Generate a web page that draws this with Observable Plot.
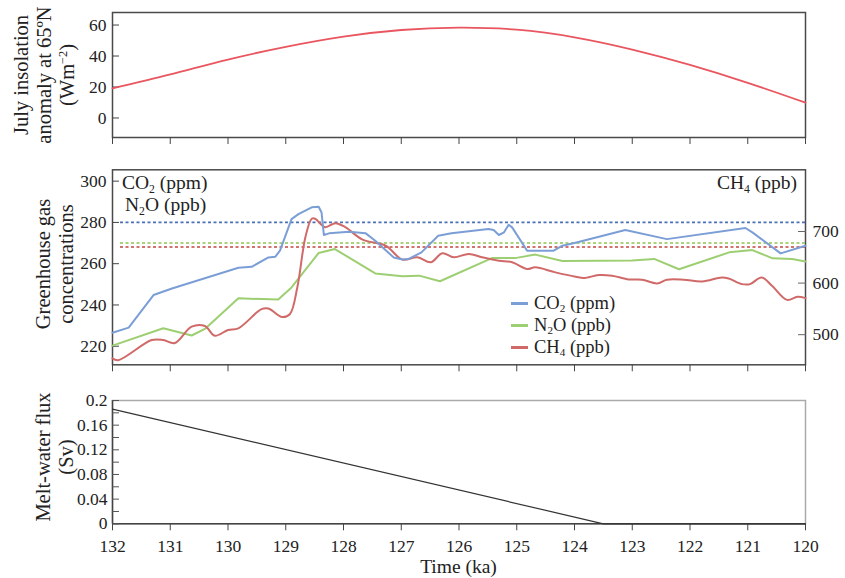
<!DOCTYPE html>
<html><head><meta charset="utf-8">
<script src="https://cdn.jsdelivr.net/npm/d3@7"></script>
<script src="https://cdn.jsdelivr.net/npm/@observablehq/plot@0.6"></script>
<style>
body{margin:0;background:#fff;}
#wrap{position:relative;width:845px;height:578px;font-family:"Liberation Serif",serif;color:#222;overflow:hidden;}
#wrap svg{position:absolute;left:0;}
.t{position:absolute;white-space:nowrap;font-size:19.5px;line-height:18px;}
.lt{font-size:18.5px;}
.yt{position:absolute;transform:translate(-50%,-50%) rotate(-90deg);white-space:nowrap;text-align:center;font-size:20.5px;line-height:23px;}
sub{font-size:0.6em;vertical-align:-0.3em;line-height:0;}
sup{font-size:0.6em;vertical-align:0.55em;line-height:0;}
.leg{position:absolute;left:511px;width:17px;height:3px;}
</style></head>
<body>
<div id="wrap"></div>
<script>
// ---------- data ----------
const xTicks = [132,131,130,129,128,127,126,125,124,123,122,121,120];

const insolYears  = [132,131,130,129,128,127,126,125,124,123,122,121,120];
const insolValues = [19.1,28.1,37.7,45.9,52.5,56.8,58.3,57.0,52.1,44.2,34.3,22.7,9.9];
const insolTicks  = [0,20,40,60];

const co2Years  = [132,131.72,131.29,130.97,129.82,129.59,129.3,129.18,129.1,128.9,128.78,128.55,128.43,128.38,128.34,128.25,127.9,127.62,127.45,127.13,126.98,126.87,126.65,126.36,126.13,125.49,125.4,125.31,125.22,125.14,125.08,124.82,124.36,124.21,124.0,123.12,122.4,121.04,120.92,120.43,120];
const co2Values = [226.5,229,244.8,248,258,258.5,263,263.4,266.3,281.6,284,287.3,287.6,284.8,273.9,274.7,275.5,274.8,271.1,263,262,262.3,265.5,273.5,274.7,276.8,276.3,273.9,275.2,278.9,277.6,266.3,266.3,268.7,270.0,276.3,271.9,277.3,275.2,265,268.7];

const n2oYears  = [132,131.12,130.63,130.4,129.82,129.13,128.9,128.43,128.15,127.45,126.98,126.69,126.33,125.43,125.03,124.68,124.21,123.0,122.62,122.19,121.32,120.92,120.57,120.23,120];
const n2oValues = [220.3,228.7,225.2,228.4,243.2,242.6,248.5,265.2,267.1,255.3,253.9,254.2,251.5,262.7,262.7,264.4,261.3,261.6,262.3,257.3,265.5,266.6,262.6,262.3,261.1];

const ch4Years  = [132,131.9,131.32,131.12,130.92,130.63,130.4,130.23,130.0,129.82,129.42,129.3,129.07,128.93,128.8,128.66,128.55,128.49,128.32,128.14,127.97,127.67,127.27,126.98,126.72,126.49,126.29,126.09,125.83,125.6,125.31,125.08,124.82,124.68,124.33,123.98,123.84,123.58,123.35,123.06,122.83,122.57,122.4,122.11,121.79,121.45,121.33,121.1,120.96,120.76,120.58,120.32,120.14,120];
const ch4Values = [454,450.6,489.6,489.6,483.8,515.6,516.9,498,509,512.3,549.4,550.6,534.4,539.6,591.6,689,724.7,724.7,708.4,716.2,708.4,684.4,672.7,645.5,650,640.3,657.8,650,656.5,650,643.5,640.3,627.3,630.5,620.8,612.3,609.7,615.6,614.3,607.1,606.5,599.4,606.5,606.5,603.2,611,609,598,598,611,594.8,567.5,573.4,570.8];

const ghgLeftTicks  = [220,240,260,280,300];
const ch4Ticks      = [500,600,700];
const refCO2 = [280], refN2O = [270], refCH4 = [670];

const meltYears  = [132,123.5,120];
const meltValues = [0.186,0,0];
const meltTicks  = [0,0.02,0.04,0.06,0.08,0.10,0.12,0.14,0.16,0.18,0.2];
const meltTickLabels = ["0","","0.04","","0.08","","0.12","","0.16","","0.2"];

// ---------- helpers ----------
const W = 845, ML = 112, MR = 40;
const xDomain = [132,120];
const font = {fontFamily:"'Liberation Serif', serif", fontSize:"17.5px", color:"#222", background:"transparent", overflow:"visible"};
const ch4ToLeft = c => 275.6 + (c - 700) * 0.25;
const leftToCh4 = v => 700 + (v - 275.6) / 0.25;

const insol = insolYears.map((t,i)=>({t, v:insolValues[i]}));
const co2 = co2Years.map((t,i)=>({t, v:co2Values[i]}));
const n2o = n2oYears.map((t,i)=>({t, v:n2oValues[i]}));
const ch4 = ch4Years.map((t,i)=>({t, v:ch4ToLeft(ch4Values[i])}));
const melt = meltYears.map((t,i)=>({t, v:meltValues[i]}));

const C = {ins:"#e9565f", co2:"#7b9ed6", n2o:"#9dcf72", ch4:"#d06a69",
           co2d:"#4a70b8", n2od:"#8dc44e", ch4d:"#c54543"};

const wrap = document.getElementById("wrap");

// ---------- top panel ----------
const p1 = Plot.plot({
  width:W, height:150, marginLeft:ML, marginRight:MR, marginTop:12, marginBottom:13,
  style:font,
  x:{domain:xDomain},
  y:{domain:[-12.6,68.1]},
  marks:[
    Plot.frame({stroke:"#4a4a4a", strokeWidth:1.5}),
    Plot.axisX(xTicks, {tickSize:7, tickFormat:()=>"", label:null, stroke:"#444"}),
    Plot.axisY(insolTicks, {tickSize:-7, tickPadding:13, label:null, stroke:"#444"}),
    Plot.line(insol, {x:"t", y:"v", stroke:C.ins, strokeWidth:1.8, curve:"natural"})
  ]
});
p1.style.top = "0px";
wrap.appendChild(p1);

// ---------- middle panel ----------
const p2 = Plot.plot({
  width:W, height:230, marginLeft:ML, marginRight:MR, marginTop:19.3, marginBottom:15.7,
  style:font,
  x:{domain:xDomain},
  y:{domain:[211,305.5]},
  marks:[
    Plot.frame({stroke:"#4a4a4a", strokeWidth:1.5}),
    Plot.axisX(xTicks, {tickSize:7, tickFormat:()=>"", label:null, stroke:"#444"}),
    Plot.axisY(ghgLeftTicks, {tickSize:-7, tickPadding:13, label:null, stroke:"#444"}),
    Plot.axisY(ch4Ticks.map(ch4ToLeft), {anchor:"right", tickSize:-8, tickPadding:15, label:null, stroke:"#666",
      tickFormat:d=>String(Math.round(leftToCh4(d)))}),
    Plot.ruleY(refCO2, {stroke:C.co2d, strokeWidth:1.6, strokeDasharray:"3,2.5", insetLeft:8}),
    Plot.ruleY(refN2O, {stroke:C.n2od, strokeWidth:1.6, strokeDasharray:"3,2.5", insetLeft:8}),
    Plot.ruleY(refCH4.map(ch4ToLeft), {stroke:C.ch4d, strokeWidth:1.6, strokeDasharray:"3,2.5", insetLeft:8}),
    Plot.line(n2o, {x:"t", y:"v", stroke:C.n2o, strokeWidth:2}),
    Plot.line(ch4, {x:"t", y:"v", stroke:C.ch4, strokeWidth:2, curve:"catmull-rom"}),
    Plot.line(co2, {x:"t", y:"v", stroke:C.co2, strokeWidth:2})
  ]
});
p2.style.top = "150px";
wrap.appendChild(p2);

// ---------- bottom panel ----------
const p3 = Plot.plot({
  width:W, height:198, marginLeft:ML, marginRight:MR, marginTop:20, marginBottom:54.7,
  style:font,
  x:{domain:xDomain},
  y:{domain:[0,0.2]},
  marks:[
    Plot.frame({stroke:"#aaa", strokeWidth:1.5}),
    Plot.ruleX(xDomain.slice(0,1), {stroke:"#444", strokeWidth:1.5}),
    Plot.ruleY(meltTicks.slice(0,1), {stroke:"#444", strokeWidth:1.5}),
    Plot.axisX(xTicks, {tickSize:7, tickPadding:9, label:null, stroke:"#444", tickFormat:d=>String(d)}),
    Plot.axisY(meltTicks, {tickSize:-7, tickPadding:12, label:null, stroke:"#555",
      tickFormat:d=>meltTickLabels[meltTicks.findIndex(t=>Math.abs(t-d)<1e-9)]}),
    Plot.line(melt, {x:"t", y:"v", stroke:"#333", strokeWidth:1.2})
  ]
});
p3.style.top = "380px";
wrap.appendChild(p3);

// ---------- text overlays ----------
function add(html, css, cls="t"){
  const d = document.createElement("div");
  d.className = cls; d.innerHTML = html;
  Object.assign(d.style, css);
  wrap.appendChild(d);
  return d;
}
add("July insolation<br>anomaly at 65ºN<br>(Wm<sup>−2</sup>)", {left:"43.5px", top:"75px"}, "yt");
add("Greenhouse gas<br>concentrations", {left:"55px", top:"264px"}, "yt");
add("Melt-water flux<br>(Sv)", {left:"54.5px", top:"457px"}, "yt");

add("CO<sub>2</sub> (ppm)", {left:"122px", top:"174px"});
add("N<sub>2</sub>O (ppb)", {left:"125px", top:"196px"});
add("CH<sub>4</sub> (ppb)", {right:"48px", top:"174px"});

const legItems = [["CO<sub>2</sub> (ppm)", C.co2, 303.3], ["N<sub>2</sub>O (ppb)", C.n2o, 325], ["CH<sub>4</sub> (ppb)", C.ch4, 347.7]];
legItems.forEach(([lab, col, y]) => {
  add("", {left:"511px", top:(y-1.5)+"px", background:col}, "leg");
  add(lab, {left:"534px", top:(y+5-14.5)+"px"}, "t lt");
});

add("Time (ka)", {left:"458.5px", top:"557.5px", transform:"translateX(-50%)"});
</script>
</body></html>
